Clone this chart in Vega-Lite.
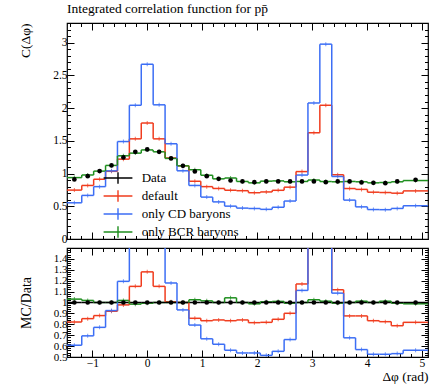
{
"$schema": "https://vega.github.io/schema/vega-lite/v6.json",
"padding": {"left": 18, "top": 2, "right": 5, "bottom": 0},
"spacing": 0,
"title": {"text": "Integrated correlation function for pp̄", "anchor": "start", "frame": "group", "font": "Liberation Serif", "fontSize": 13.5, "fontWeight": "normal", "color": "black", "offset": 6},
"config": {
  "axis": {"grid": false, "domain": false, "ticks": true, "tickColor": "black", "tickWidth": 1, "minExtent": 0, "labelOverlap": false, "labelFont": "Liberation Serif", "labelFontSize": 11.5, "labelColor": "black", "titleFont": "Liberation Serif", "titleFontSize": 13.5, "titleFontWeight": "normal", "titleColor": "black"},
  "view": {"stroke": "black", "strokeWidth": 1.2},
  "legend": {"labelFont": "Liberation Serif", "labelFontSize": 13, "labelColor": "black"}
},
"datasets": {
  "bins": [
    {"i":0,"lo":-1.46,"hi":-1.19164,"c":-1.326},
    {"i":1,"lo":-1.19164,"hi":-0.97498,"c":-1.08331},
    {"i":2,"lo":-0.97498,"hi":-0.75832,"c":-0.86665},
    {"i":3,"lo":-0.75832,"hi":-0.54166,"c":-0.64999},
    {"i":4,"lo":-0.54166,"hi":-0.32499,"c":-0.43332},
    {"i":5,"lo":-0.32499,"hi":-0.10833,"c":-0.21666},
    {"i":6,"lo":-0.10833,"hi":0.10833,"c":0},
    {"i":7,"lo":0.10833,"hi":0.32499,"c":0.21666},
    {"i":8,"lo":0.32499,"hi":0.54166,"c":0.43332},
    {"i":9,"lo":0.54166,"hi":0.75832,"c":0.64999},
    {"i":10,"lo":0.75832,"hi":0.97498,"c":0.86665},
    {"i":11,"lo":0.97498,"hi":1.19164,"c":1.08331},
    {"i":12,"lo":1.19164,"hi":1.4083,"c":1.29997},
    {"i":13,"lo":1.4083,"hi":1.62497,"c":1.51663},
    {"i":14,"lo":1.62497,"hi":1.84163,"c":1.7333},
    {"i":15,"lo":1.84163,"hi":2.05829,"c":1.94996},
    {"i":16,"lo":2.05829,"hi":2.27495,"c":2.16662},
    {"i":17,"lo":2.27495,"hi":2.49161,"c":2.38328},
    {"i":18,"lo":2.49161,"hi":2.70828,"c":2.59994},
    {"i":19,"lo":2.70828,"hi":2.92494,"c":2.81661},
    {"i":20,"lo":2.92494,"hi":3.1416,"c":3.03327},
    {"i":21,"lo":3.1416,"hi":3.35826,"c":3.24993},
    {"i":22,"lo":3.35826,"hi":3.57492,"c":3.46659},
    {"i":23,"lo":3.57492,"hi":3.79159,"c":3.68326},
    {"i":24,"lo":3.79159,"hi":4.00825,"c":3.89992},
    {"i":25,"lo":4.00825,"hi":4.22491,"c":4.11658},
    {"i":26,"lo":4.22491,"hi":4.44157,"c":4.33324},
    {"i":27,"lo":4.44157,"hi":4.65823,"c":4.5499},
    {"i":28,"lo":4.65823,"hi":5.11,"c":4.884}
  ],
  "vals": [
    {"i":0,"s":"default","y":0.747,"r":0.821},
    {"i":1,"s":"default","y":0.818,"r":0.852},
    {"i":2,"s":"default","y":0.913,"r":0.88},
    {"i":3,"s":"default","y":1.034,"r":0.92},
    {"i":4,"s":"default","y":1.22,"r":0.978},
    {"i":5,"s":"default","y":1.53,"r":1.148},
    {"i":6,"s":"default","y":1.772,"r":1.281},
    {"i":7,"s":"default","y":1.53,"r":1.148},
    {"i":8,"s":"default","y":1.238,"r":1.006},
    {"i":9,"s":"default","y":1.118,"r":1.0},
    {"i":10,"s":"default","y":0.882,"r":0.855},
    {"i":11,"s":"default","y":0.8,"r":0.833},
    {"i":12,"s":"default","y":0.772,"r":0.84},
    {"i":13,"s":"default","y":0.745,"r":0.833},
    {"i":14,"s":"default","y":0.738,"r":0.84},
    {"i":15,"s":"default","y":0.707,"r":0.815},
    {"i":16,"s":"default","y":0.719,"r":0.818},
    {"i":17,"s":"default","y":0.744,"r":0.846},
    {"i":18,"s":"default","y":0.792,"r":0.901},
    {"i":19,"s":"default","y":1.03,"r":1.17},
    {"i":20,"s":"default","y":1.623,"r":1.846},
    {"i":21,"s":"default","y":2.043,"r":2.354},
    {"i":22,"s":"default","y":0.982,"r":1.117},
    {"i":23,"s":"default","y":0.771,"r":0.877},
    {"i":24,"s":"default","y":0.758,"r":0.877},
    {"i":25,"s":"default","y":0.715,"r":0.833},
    {"i":26,"s":"default","y":0.71,"r":0.824},
    {"i":27,"s":"default","y":0.7,"r":0.787},
    {"i":28,"s":"default","y":0.735,"r":0.818},
    {"i":0,"s":"only CD baryons","y":0.553,"r":0.608},
    {"i":1,"s":"only CD baryons","y":0.666,"r":0.694},
    {"i":2,"s":"only CD baryons","y":0.8,"r":0.772},
    {"i":3,"s":"only CD baryons","y":1.041,"r":0.926},
    {"i":4,"s":"only CD baryons","y":1.489,"r":1.194},
    {"i":5,"s":"only CD baryons","y":2.043,"r":1.534},
    {"i":6,"s":"only CD baryons","y":2.67,"r":1.95},
    {"i":7,"s":"only CD baryons","y":2.05,"r":1.539},
    {"i":8,"s":"only CD baryons","y":1.455,"r":1.179},
    {"i":9,"s":"only CD baryons","y":1.042,"r":0.932},
    {"i":10,"s":"only CD baryons","y":0.818,"r":0.793},
    {"i":11,"s":"only CD baryons","y":0.64,"r":0.667},
    {"i":12,"s":"only CD baryons","y":0.567,"r":0.617},
    {"i":13,"s":"only CD baryons","y":0.502,"r":0.562},
    {"i":14,"s":"only CD baryons","y":0.472,"r":0.537},
    {"i":15,"s":"only CD baryons","y":0.466,"r":0.537},
    {"i":16,"s":"only CD baryons","y":0.453,"r":0.515},
    {"i":17,"s":"only CD baryons","y":0.485,"r":0.552},
    {"i":18,"s":"only CD baryons","y":0.58,"r":0.66},
    {"i":19,"s":"only CD baryons","y":0.977,"r":1.111},
    {"i":20,"s":"only CD baryons","y":2.078,"r":2.364},
    {"i":21,"s":"only CD baryons","y":2.977,"r":3.43},
    {"i":22,"s":"only CD baryons","y":0.955,"r":1.086},
    {"i":23,"s":"only CD baryons","y":0.594,"r":0.676},
    {"i":24,"s":"only CD baryons","y":0.491,"r":0.568},
    {"i":25,"s":"only CD baryons","y":0.45,"r":0.525},
    {"i":26,"s":"only CD baryons","y":0.448,"r":0.525},
    {"i":27,"s":"only CD baryons","y":0.467,"r":0.531},
    {"i":28,"s":"only CD baryons","y":0.508,"r":0.562},
    {"i":0,"s":"only BCR baryons","y":0.938,"r":1.031},
    {"i":1,"s":"only BCR baryons","y":0.978,"r":1.019},
    {"i":2,"s":"only BCR baryons","y":1.037,"r":1.0},
    {"i":3,"s":"only BCR baryons","y":1.124,"r":1.0},
    {"i":4,"s":"only BCR baryons","y":1.271,"r":1.019},
    {"i":5,"s":"only BCR baryons","y":1.312,"r":0.985},
    {"i":6,"s":"only BCR baryons","y":1.361,"r":0.994},
    {"i":7,"s":"only BCR baryons","y":1.332,"r":1.0},
    {"i":8,"s":"only BCR baryons","y":1.231,"r":1.0},
    {"i":9,"s":"only BCR baryons","y":1.118,"r":1.0},
    {"i":10,"s":"only BCR baryons","y":1.058,"r":1.025},
    {"i":11,"s":"only BCR baryons","y":0.974,"r":1.015},
    {"i":12,"s":"only BCR baryons","y":0.919,"r":1.0},
    {"i":13,"s":"only BCR baryons","y":0.932,"r":1.043},
    {"i":14,"s":"only BCR baryons","y":0.879,"r":1.0},
    {"i":15,"s":"only BCR baryons","y":0.858,"r":0.988},
    {"i":16,"s":"only BCR baryons","y":0.884,"r":1.006},
    {"i":17,"s":"only BCR baryons","y":0.888,"r":1.01},
    {"i":18,"s":"only BCR baryons","y":0.874,"r":0.994},
    {"i":19,"s":"only BCR baryons","y":0.879,"r":1.0},
    {"i":20,"s":"only BCR baryons","y":0.901,"r":1.025},
    {"i":21,"s":"only BCR baryons","y":0.878,"r":1.012},
    {"i":22,"s":"only BCR baryons","y":0.874,"r":0.994},
    {"i":23,"s":"only BCR baryons","y":0.879,"r":1.0},
    {"i":24,"s":"only BCR baryons","y":0.874,"r":1.012},
    {"i":25,"s":"only BCR baryons","y":0.858,"r":1.0},
    {"i":26,"s":"only BCR baryons","y":0.863,"r":1.012},
    {"i":27,"s":"only BCR baryons","y":0.874,"r":0.994},
    {"i":28,"s":"only BCR baryons","y":0.893,"r":0.988},
    {"i":0,"s":"Data","y":0.91,"r":1},
    {"i":1,"s":"Data","y":0.96,"r":1},
    {"i":2,"s":"Data","y":1.037,"r":1},
    {"i":3,"s":"Data","y":1.124,"r":1},
    {"i":4,"s":"Data","y":1.247,"r":1},
    {"i":5,"s":"Data","y":1.332,"r":1},
    {"i":6,"s":"Data","y":1.369,"r":1},
    {"i":7,"s":"Data","y":1.332,"r":1},
    {"i":8,"s":"Data","y":1.231,"r":1},
    {"i":9,"s":"Data","y":1.118,"r":1},
    {"i":10,"s":"Data","y":1.032,"r":1},
    {"i":11,"s":"Data","y":0.96,"r":1},
    {"i":12,"s":"Data","y":0.919,"r":1},
    {"i":13,"s":"Data","y":0.894,"r":1},
    {"i":14,"s":"Data","y":0.879,"r":1},
    {"i":15,"s":"Data","y":0.868,"r":1},
    {"i":16,"s":"Data","y":0.879,"r":1},
    {"i":17,"s":"Data","y":0.879,"r":1},
    {"i":18,"s":"Data","y":0.879,"r":1},
    {"i":19,"s":"Data","y":0.879,"r":1},
    {"i":20,"s":"Data","y":0.879,"r":1},
    {"i":21,"s":"Data","y":0.868,"r":1},
    {"i":22,"s":"Data","y":0.879,"r":1},
    {"i":23,"s":"Data","y":0.879,"r":1},
    {"i":24,"s":"Data","y":0.864,"r":1},
    {"i":25,"s":"Data","y":0.858,"r":1},
    {"i":26,"s":"Data","y":0.853,"r":1},
    {"i":27,"s":"Data","y":0.879,"r":1},
    {"i":28,"s":"Data","y":0.904,"r":1}
  ]
},
"resolve": {"scale": {"color": "independent"}, "legend": {"color": "independent"}},
"vconcat": [
  {
    "width": 361, "height": 216,
    "resolve": {"axis": {"x": "independent", "y": "independent"}},
    "layer": [
      {
        "data": {"name": "vals"},
        "transform": [
          {"lookup": "i", "from": {"data": {"name": "bins"}, "key": "i", "fields": ["lo", "hi", "c"]}},
          {"filter": "datum.s !== 'Data'"}
        ],
        "mark": {"type": "rule", "strokeWidth": 1.5, "clip": true},
        "encoding": {
          "x": {"field": "lo", "type": "quantitative", "scale": {"domain": [-1.46, 5.11], "nice": false, "zero": false},
                "axis": {"orient": "bottom", "values": [-1, 0, 1, 2, 3, 4, 5], "tickSize": -7, "labels": false, "title": null}},
          "x2": {"field": "hi"},
          "y": {"field": "y", "type": "quantitative", "scale": {"domain": [0, 3.3], "nice": false, "zero": false},
                "axis": {"orient": "left", "values": [0, 0.5, 1, 1.5, 2, 2.5, 3], "tickSize": -7, "format": ".1~f", "labelPadding": 7, "title": "C(Δφ)", "titleAnchor": "end", "titlePadding": 20}},
          "color": {"field": "s", "type": "nominal",
                    "scale": {"domain": ["Data", "default", "only CD baryons", "only BCR baryons"], "range": ["#000000", "#f03c1e", "#3c6ef5", "#1f8f1f"]},
                    "legend": {"orient": "none", "legendX": 44, "legendY": 148, "title": null, "symbolType": "M-2.4,0H2.4M0,-0.95V0.95", "symbolSize": 144, "symbolStrokeWidth": 1.4, "symbolOpacity": 1, "labelOffset": 16.7, "rowPadding": 0, "padding": 0, "labelFontSize": 13, "labelFont": "Liberation Serif"}}
        }
      },
      {
        "data": {"name": "vals"},
        "transform": [
          {"filter": "datum.s !== 'Data'"},
          {"window": [{"op": "lag", "field": "y", "as": "py"}], "groupby": ["s"], "sort": [{"field": "i", "order": "ascending"}]},
          {"filter": "isValid(datum.py)"},
          {"lookup": "i", "from": {"data": {"name": "bins"}, "key": "i", "fields": ["lo", "hi", "c"]}}
        ],
        "mark": {"type": "rule", "strokeWidth": 1.5, "clip": true},
        "encoding": {
          "x": {"field": "lo", "type": "quantitative", "scale": {"domain": [-1.46, 5.11], "nice": false, "zero": false},
                "axis": {"orient": "bottom", "values": [-1.4, -1.2, -0.8, -0.6, -0.4, -0.2, 0.2, 0.4, 0.6, 0.8, 1.2, 1.4, 1.6, 1.8, 2.2, 2.4, 2.6, 2.8, 3.2, 3.4, 3.6, 3.8, 4.2, 4.4, 4.6, 4.8], "tickSize": -3.5, "labels": false, "title": null}},
          "y": {"field": "py", "type": "quantitative", "scale": {"domain": [0, 3.3], "nice": false, "zero": false},
                "axis": {"orient": "left", "values": [0.1, 0.2, 0.3, 0.4, 0.6, 0.7, 0.8, 0.9, 1.1, 1.2, 1.3, 1.4, 1.6, 1.7, 1.8, 1.9, 2.1, 2.2, 2.3, 2.4, 2.6, 2.7, 2.8, 2.9, 3.1, 3.2], "tickSize": -3.5, "labels": false, "title": null}},
          "y2": {"field": "y"},
          "color": {"field": "s", "type": "nominal", "legend": null,
                    "scale": {"domain": ["Data", "default", "only CD baryons", "only BCR baryons"], "range": ["#000000", "#f03c1e", "#3c6ef5", "#1f8f1f"]}}
        }
      },
      {
        "data": {"name": "vals"},
        "transform": [
          {"filter": "datum.s !== 'Data'"},
          {"lookup": "i", "from": {"data": {"name": "bins"}, "key": "i", "fields": ["lo", "hi", "c"]}}
        ],
        "mark": {"type": "tick", "orient": "vertical", "size": 4, "thickness": 1, "clip": true},
        "encoding": {
          "x": {"field": "c", "type": "quantitative", "scale": {"domain": [-1.46, 5.11], "nice": false, "zero": false},
                "axis": {"orient": "top", "values": [-1, 0, 1, 2, 3, 4, 5], "tickSize": -7, "labels": false, "title": null}},
          "y": {"field": "y", "type": "quantitative", "scale": {"domain": [0, 3.3], "nice": false, "zero": false},
                "axis": {"orient": "right", "values": [0, 0.5, 1, 1.5, 2, 2.5, 3], "tickSize": -7, "labels": false, "title": null}},
          "color": {"field": "s", "type": "nominal", "legend": null,
                    "scale": {"domain": ["Data", "default", "only CD baryons", "only BCR baryons"], "range": ["#000000", "#f03c1e", "#3c6ef5", "#1f8f1f"]}}
        }
      },
      {
        "data": {"name": "vals"},
        "transform": [
          {"filter": "datum.s === 'Data'"},
          {"lookup": "i", "from": {"data": {"name": "bins"}, "key": "i", "fields": ["lo", "hi", "c"]}}
        ],
        "mark": {"type": "circle", "size": 22, "opacity": 1},
        "encoding": {
          "x": {"field": "c", "type": "quantitative", "scale": {"domain": [-1.46, 5.11], "nice": false, "zero": false},
                "axis": {"orient": "top", "values": [-1.4, -1.2, -0.8, -0.6, -0.4, -0.2, 0.2, 0.4, 0.6, 0.8, 1.2, 1.4, 1.6, 1.8, 2.2, 2.4, 2.6, 2.8, 3.2, 3.4, 3.6, 3.8, 4.2, 4.4, 4.6, 4.8], "tickSize": -3.5, "labels": false, "title": null}},
          "y": {"field": "y", "type": "quantitative", "scale": {"domain": [0, 3.3], "nice": false, "zero": false},
                "axis": {"orient": "right", "values": [0.1, 0.2, 0.3, 0.4, 0.6, 0.7, 0.8, 0.9, 1.1, 1.2, 1.3, 1.4, 1.6, 1.7, 1.8, 1.9, 2.1, 2.2, 2.3, 2.4, 2.6, 2.7, 2.8, 2.9, 3.1, 3.2], "tickSize": -3.5, "labels": false, "title": null}},
          "color": {"field": "s", "type": "nominal", "legend": null,
                    "scale": {"domain": ["Data", "default", "only CD baryons", "only BCR baryons"], "range": ["#000000", "#f03c1e", "#3c6ef5", "#1f8f1f"]}}
        }
      }
    ]
  },
  {
    "width": 361, "height": 109,
    "resolve": {"axis": {"x": "independent", "y": "independent"}},
    "layer": [
      {
        "data": {"name": "vals"},
        "transform": [
          {"lookup": "i", "from": {"data": {"name": "bins"}, "key": "i", "fields": ["lo", "hi", "c"]}}
        ],
        "mark": {"type": "rule", "strokeWidth": 1.5, "clip": true},
        "encoding": {
          "x": {"field": "lo", "type": "quantitative", "scale": {"domain": [-1.46, 5.11], "nice": false, "zero": false},
                "axis": {"orient": "bottom", "values": [-1, 0, 1, 2, 3, 4, 5], "tickSize": -7, "labelPadding": 7, "title": "Δφ (rad)", "titleAnchor": "end", "titlePadding": 1}},
          "x2": {"field": "hi"},
          "y": {"field": "r", "type": "quantitative", "scale": {"domain": [0.5, 1.5], "nice": false, "zero": false},
                "axis": {"orient": "left", "values": [0.5, 0.6, 0.7, 0.8, 0.9, 1, 1.1, 1.2, 1.3, 1.4], "tickSize": -7, "format": ".1~f", "labelPadding": 7, "labelFontSize": 11, "title": "MC/Data", "titleFontSize": 14, "titlePadding": 20}},
          "color": {"field": "s", "type": "nominal", "legend": null,
                    "scale": {"domain": ["Data", "default", "only CD baryons", "only BCR baryons"], "range": ["#000000", "#f03c1e", "#3c6ef5", "#1f8f1f"]}}
        }
      },
      {
        "data": {"name": "vals"},
        "transform": [
          {"filter": "datum.s !== 'Data'"},
          {"window": [{"op": "lag", "field": "r", "as": "pr"}], "groupby": ["s"], "sort": [{"field": "i", "order": "ascending"}]},
          {"filter": "isValid(datum.pr)"},
          {"lookup": "i", "from": {"data": {"name": "bins"}, "key": "i", "fields": ["lo", "hi", "c"]}}
        ],
        "mark": {"type": "rule", "strokeWidth": 1.5, "clip": true},
        "encoding": {
          "x": {"field": "lo", "type": "quantitative", "scale": {"domain": [-1.46, 5.11], "nice": false, "zero": false},
                "axis": {"orient": "bottom", "values": [-1.4, -1.2, -0.8, -0.6, -0.4, -0.2, 0.2, 0.4, 0.6, 0.8, 1.2, 1.4, 1.6, 1.8, 2.2, 2.4, 2.6, 2.8, 3.2, 3.4, 3.6, 3.8, 4.2, 4.4, 4.6, 4.8], "tickSize": -3.5, "labels": false, "title": null}},
          "y": {"field": "pr", "type": "quantitative", "scale": {"domain": [0.5, 1.5], "nice": false, "zero": false},
                "axis": {"orient": "left", "values": [0.52, 0.54, 0.56, 0.58, 0.62, 0.64, 0.66, 0.68, 0.72, 0.74, 0.76, 0.78, 0.82, 0.84, 0.86, 0.88, 0.92, 0.94, 0.96, 0.98, 1.02, 1.04, 1.06, 1.08, 1.12, 1.14, 1.16, 1.18, 1.22, 1.24, 1.26, 1.28, 1.32, 1.34, 1.36, 1.38, 1.42, 1.44, 1.46, 1.48], "tickSize": -3.5, "labels": false, "title": null}},
          "y2": {"field": "r"},
          "color": {"field": "s", "type": "nominal", "legend": null,
                    "scale": {"domain": ["Data", "default", "only CD baryons", "only BCR baryons"], "range": ["#000000", "#f03c1e", "#3c6ef5", "#1f8f1f"]}}
        }
      },
      {
        "data": {"name": "vals"},
        "transform": [
          {"filter": "datum.s !== 'Data'"},
          {"lookup": "i", "from": {"data": {"name": "bins"}, "key": "i", "fields": ["lo", "hi", "c"]}}
        ],
        "mark": {"type": "tick", "orient": "vertical", "size": 4, "thickness": 1, "clip": true},
        "encoding": {
          "x": {"field": "c", "type": "quantitative", "scale": {"domain": [-1.46, 5.11], "nice": false, "zero": false},
                "axis": {"orient": "top", "values": [-1, 0, 1, 2, 3, 4, 5], "tickSize": -7, "labels": false, "title": null}},
          "y": {"field": "r", "type": "quantitative", "scale": {"domain": [0.5, 1.5], "nice": false, "zero": false},
                "axis": {"orient": "right", "values": [0.5, 0.6, 0.7, 0.8, 0.9, 1, 1.1, 1.2, 1.3, 1.4], "tickSize": -7, "labels": false, "title": null}},
          "color": {"field": "s", "type": "nominal", "legend": null,
                    "scale": {"domain": ["Data", "default", "only CD baryons", "only BCR baryons"], "range": ["#000000", "#f03c1e", "#3c6ef5", "#1f8f1f"]}}
        }
      },
      {
        "data": {"name": "vals"},
        "transform": [
          {"filter": "datum.s === 'Data'"},
          {"lookup": "i", "from": {"data": {"name": "bins"}, "key": "i", "fields": ["lo", "hi", "c"]}}
        ],
        "mark": {"type": "circle", "size": 22, "opacity": 1},
        "encoding": {
          "x": {"field": "c", "type": "quantitative", "scale": {"domain": [-1.46, 5.11], "nice": false, "zero": false},
                "axis": {"orient": "top", "values": [-1.4, -1.2, -0.8, -0.6, -0.4, -0.2, 0.2, 0.4, 0.6, 0.8, 1.2, 1.4, 1.6, 1.8, 2.2, 2.4, 2.6, 2.8, 3.2, 3.4, 3.6, 3.8, 4.2, 4.4, 4.6, 4.8], "tickSize": -3.5, "labels": false, "title": null}},
          "y": {"field": "r", "type": "quantitative", "scale": {"domain": [0.5, 1.5], "nice": false, "zero": false},
                "axis": {"orient": "right", "values": [0.52, 0.54, 0.56, 0.58, 0.62, 0.64, 0.66, 0.68, 0.72, 0.74, 0.76, 0.78, 0.82, 0.84, 0.86, 0.88, 0.92, 0.94, 0.96, 0.98, 1.02, 1.04, 1.06, 1.08, 1.12, 1.14, 1.16, 1.18, 1.22, 1.24, 1.26, 1.28, 1.32, 1.34, 1.36, 1.38, 1.42, 1.44, 1.46, 1.48], "tickSize": -3.5, "labels": false, "title": null}},
          "color": {"field": "s", "type": "nominal", "legend": null,
                    "scale": {"domain": ["Data", "default", "only CD baryons", "only BCR baryons"], "range": ["#000000", "#f03c1e", "#3c6ef5", "#1f8f1f"]}}
        }
      }
    ]
  }
]
}
